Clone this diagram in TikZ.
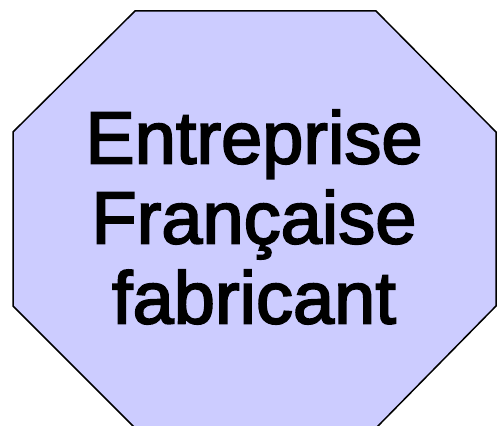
\documentclass[tikz,border=0pt]{standalone}
\usepackage{fontspec}
\setmainfont{Liberation Sans}
\newfontfamily\octfont[BoldFont=Liberation Sans,BoldFeatures={FakeBold=2.5}]{Liberation Sans}
\usepackage{tikz}
\definecolor{octfill}{RGB}{204,204,255}
\tikzset{
  octo/.style={draw=black,fill=octfill,line width=1.5pt,line join=miter},
  octtext/.style={align=center,inner sep=0pt,
                  font=\octfont\fontsize{74}{80}\selectfont\bfseries},
}

\begin{document}
\begin{tikzpicture}[x=1pt,y=-1pt]
  \useasboundingbox (0,0) rectangle (497,425);
  \clip (0,0) rectangle (497,425);

  % octagon corners
  \coordinate (TL) at (135,11);
  \coordinate (TR) at (376,11);
  \coordinate (RU) at (496,132);
  \coordinate (RD) at (496,306);
  \coordinate (BR) at (377,427);
  \coordinate (BL) at (134,427);
  \coordinate (LD) at (13,306);
  \coordinate (LU) at (13,132);

  \draw[octo] (TL) -- (TR) -- (RU) -- (RD) -- (BR) -- (BL) -- (LD) -- (LU) -- cycle;

  \node[octtext] (firm) at (254,217) {Entreprise\\Française\\fabricant};
\end{tikzpicture}
\end{document}
